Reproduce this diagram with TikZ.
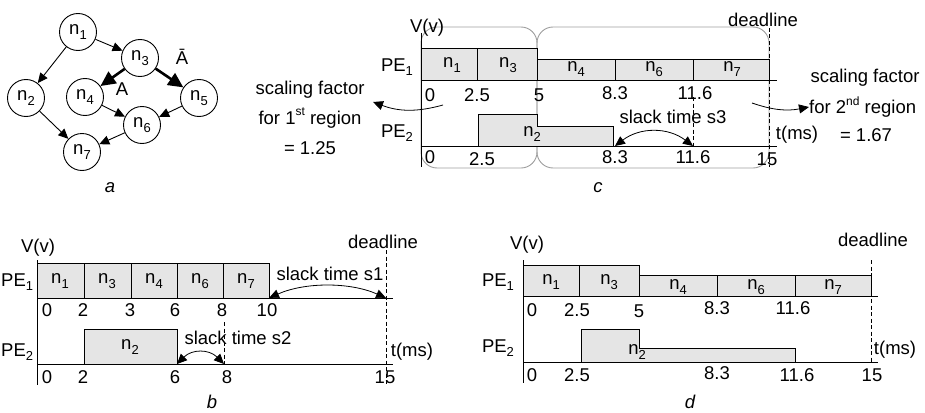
\documentclass[tikz,border=0pt]{standalone}
\usepackage{fontspec}
\setmainfont{Liberation Sans}
\usetikzlibrary{arrows.meta}
\newcommand{\mysub}[1]{\raisebox{-0.45ex}{\fontsize{13}{13}\selectfont #1}}
\newcommand{\mysup}[1]{\raisebox{0.85ex}{\fontsize{12}{12}\selectfont #1}}
\definecolor{taskgray}{gray}{0.90}
\definecolor{regiongray}{gray}{0.62}
\begin{document}
\begin{tikzpicture}[x=1pt,y=-1pt,
  font=\fontsize{18.5}{22}\selectfont,
  gn/.style={circle,draw,line width=0.9pt,minimum size=37pt,inner sep=0pt},
  garr/.style={-{Triangle[length=10pt,width=9pt]},line width=0.9pt},
  tharr/.style={-{Triangle[length=15pt,width=14pt]},line width=2.6pt},
  task/.style={draw,fill=taskgray,line width=0.8pt},
  axisline/.style={line width=0.9pt},
  dl/.style={line width=0.8pt,dash pattern=on 4pt off 2.5pt},
  slack/.style={{Triangle[length=10pt,width=9pt]}-{Triangle[length=10pt,width=9pt]},line width=0.8pt},
  sarr/.style={-{Triangle[length=10pt,width=9pt]},line width=0.8pt},
  lbl/.style={inner sep=0pt},
  figcap/.style={inner sep=0pt,font=\fontsize{18.5}{22}\selectfont\itshape},
  region/.style={draw=regiongray,line width=0.9pt,rounded corners=16pt}
]
\useasboundingbox (0,0) rectangle (925,412);

% ---------------- (a) graph ----------------
\node[gn] (n1) at (78,32) {n\mysub{1}};
\node[gn] (n3) at (140,58) {n\mysub{3}};
\node[gn] (n2) at (26,98) {n\mysub{2}};
\node[gn] (n4) at (85,97) {n\mysub{4}};
\node[gn] (n5) at (199,98) {n\mysub{5}};
\node[gn] (n6) at (142,125) {n\mysub{6}};
\node[gn] (n7) at (82,152) {n\mysub{7}};
\draw[garr] (n1) -- (n3);
\draw[garr] (n1) -- (n2);
\draw[tharr] (n3) -- (n4);
\draw[tharr] (n3) -- (n5);
\draw[garr] (n4) -- (n6);
\draw[garr] (n5) -- (n6);
\draw[garr] (n2) -- (n7);
\draw[garr] (n6) -- (n7);
\node[lbl] (lA) at (122,89) {A};
\node[lbl] (lAbar) at (182,57) {Ā};
\node[figcap] (capa) at (110,188) {a};

% ---------------- (c) ----------------
\draw[region] (421,27) rectangle (537,168);
\draw[region] (537,27) rectangle (769,168);
\draw[task] (421,48) rectangle (477,80);
\draw[task] (477,48) rectangle (537,80);
\draw[task] (537,59) rectangle (615,80);
\draw[task] (615,59) rectangle (693,80);
\draw[task] (693,59) rectangle (769,80);
\draw[task] (478,146) -- (478,114) -- (537,114) -- (537,126) -- (613,126) -- (613,146) -- cycle;
\draw[axisline] (421,33) -- (421,167);
\draw[axisline] (421,80) -- (777,80);
\draw[axisline] (421,146) -- (777,146);
\draw[dl] (769,28) -- (769,167);
\draw[dl] (693,97) -- (693,146);
\node[lbl] (c-n1) at (452,65) {n\mysub{1}};
\node[lbl] (c-n3) at (508,65) {n\mysub{3}};
\node[lbl] (c-n4) at (576,69) {n\mysub{4}};
\node[lbl] (c-n6) at (654,69) {n\mysub{6}};
\node[lbl] (c-n7) at (732,69) {n\mysub{7}};
\node[lbl] (c-n2) at (532,134) {n\mysub{2}};
\node[lbl] (c-V) at (427,28) {V(v)};
\node[lbl] (c-pe1) at (397,67) {PE\mysub{1}};
\node[lbl] (c-pe2) at (397,133) {PE\mysub{2}};
\node[lbl] (c-dl) at (763,20) {deadline};
\node[lbl] (c-t) at (797,135) {t(ms)};
\node[lbl] (c-r1a) at (430,95) {0};
\node[lbl] (c-r1b) at (477,95) {2.5};
\node[lbl] (c-r1c) at (539,95) {5};
\node[lbl] (c-r1d) at (615,93) {8.3};
\node[lbl] (c-r1e) at (695,93) {11.6};
\node[lbl] (c-r2a) at (430,157) {0};
\node[lbl] (c-r2b) at (482,159) {2.5};
\node[lbl] (c-r2c) at (615,157) {8.3};
\node[lbl] (c-r2d) at (693,157) {11.6};
\node[lbl] (c-r2e) at (767,159) {15};
\node[lbl] (c-s3) at (673,117) {slack time s3};
\coordinate (c-s3a) at (615,146);
\coordinate (c-s3b) at (693,146);
\draw[slack] (c-s3a) .. controls (640,127) and (668,127) .. (c-s3b);
\node[lbl] (sfl1) at (310,90) {scaling factor};
\node[lbl] (sfl2) at (310,118) {for 1\mysup{st} region};
\node[lbl] (sfl3) at (310,148) {= 1.25};
\coordinate (sfl-from) at (443,105);
\coordinate (sfl-to) at (373,102);
\draw[sarr] (sfl-from) to[bend left=18] (sfl-to);
\node[lbl] (sfr1) at (865,78) {scaling factor};
\node[lbl, anchor=west] (sfr2) at (809,107) {for 2\mysup{nd} region};
\node[lbl] (sfr3) at (866,135) {= 1.67};
\coordinate (sfr-from) at (752,103);
\draw[sarr] (sfr-from) to[bend right=15] (sfr2.west);
\node[figcap] (capc) at (598,188) {c};

% ---------------- (b) ----------------
\draw[task] (37,263) rectangle (84,298);
\draw[task] (84,263) rectangle (131,298);
\draw[task] (131,263) rectangle (177,298);
\draw[task] (177,263) rectangle (223,298);
\draw[task] (223,263) rectangle (269,298);
\draw[task] (84,329) rectangle (177,364);
\draw[axisline] (37,260) -- (37,385);
\draw[axisline] (37,298) -- (393,298);
\draw[axisline] (37,364) -- (393,364);
\draw[dl] (386,250) -- (386,385);
\draw[dl] (224,322) -- (224,364);
\node[lbl] (b-n1) at (60,281) {n\mysub{1}};
\node[lbl] (b-n3) at (107,281) {n\mysub{3}};
\node[lbl] (b-n4) at (154,281) {n\mysub{4}};
\node[lbl] (b-n6) at (200,281) {n\mysub{6}};
\node[lbl] (b-n7) at (246,281) {n\mysub{7}};
\node[lbl] (b-n2) at (130,347) {n\mysub{2}};
\node[lbl] (b-V) at (38,248) {V(v)};
\node[lbl, anchor=west] (b-pe1) at (1,282) {PE\mysub{1}};
\node[lbl, anchor=west] (b-pe2) at (1,352) {PE\mysub{2}};
\node[lbl] (b-dl) at (383,242) {deadline};
\node[lbl] (b-t) at (412,352) {t(ms)};
\node[lbl] (b-r1a) at (47,310) {0};
\node[lbl] (b-r1b) at (83,310) {2};
\node[lbl] (b-r1c) at (130,310) {3};
\node[lbl] (b-r1d) at (175,310) {6};
\node[lbl] (b-r1e) at (222,310) {8};
\node[lbl] (b-r1f) at (267,310) {10};
\node[lbl] (b-r2a) at (47,377) {0};
\node[lbl] (b-r2b) at (83,377) {2};
\node[lbl] (b-r2c) at (175,377) {6};
\node[lbl] (b-r2d) at (227,377) {8};
\node[lbl] (b-r2e) at (385,377) {15};
\node[lbl] (b-s1) at (330,274) {slack time s1};
\node[lbl] (b-s2) at (238,338) {slack time s2};
\coordinate (b-s1a) at (269,298);
\coordinate (b-s1b) at (386,298);
\draw[slack] (b-s1a) .. controls (305,282) and (350,282) .. (b-s1b);
\coordinate (b-s2a) at (177,364);
\coordinate (b-s2b) at (224,364);
\draw[slack] (b-s2a) .. controls (192,349) and (209,349) .. (b-s2b);
\node[figcap] (capb) at (212,402) {b};

% ---------------- (d) ----------------
\draw[task] (523,265) rectangle (579,296);
\draw[task] (579,265) rectangle (639,296);
\draw[task] (639,275) rectangle (717,296);
\draw[task] (717,275) rectangle (795,296);
\draw[task] (795,275) rectangle (871,296);
\draw[task] (581,362) -- (581,329) -- (639,329) -- (639,348) -- (795,348) -- (795,362) -- cycle;
\draw[axisline] (523,260) -- (523,383);
\draw[axisline] (523,296) -- (878,296);
\draw[axisline] (523,362) -- (878,362);
\draw[dl] (871,260) -- (871,363);
\node[lbl] (d-n1) at (551,282) {n\mysub{1}};
\node[lbl] (d-n3) at (609,282) {n\mysub{3}};
\node[lbl] (d-n4) at (678,287) {n\mysub{4}};
\node[lbl] (d-n6) at (756,287) {n\mysub{6}};
\node[lbl] (d-n7) at (833,287) {n\mysub{7}};
\node[lbl] (d-n2) at (637,352) {n\mysub{2}};
\node[lbl] (d-V) at (527,245) {V(v)};
\node[lbl] (d-pe1) at (498,282) {PE\mysub{1}};
\node[lbl] (d-pe2) at (498,348) {PE\mysub{2}};
\node[lbl] (d-dl) at (873,240) {deadline};
\node[lbl] (d-t) at (895,350) {t(ms)};
\node[lbl] (d-r1a) at (532,310) {0};
\node[lbl] (d-r1b) at (577,310) {2.5};
\node[lbl] (d-r1c) at (639,311) {5};
\node[lbl] (d-r1d) at (717,308) {8.3};
\node[lbl] (d-r1e) at (793,308) {11.6};
\node[lbl] (d-r2a) at (532,375) {0};
\node[lbl] (d-r2b) at (577,375) {2.5};
\node[lbl] (d-r2c) at (717,373) {8.3};
\node[lbl] (d-r2d) at (797,375) {11.6};
\node[lbl] (d-r2e) at (872,375) {15};
\node[figcap] (capd) at (690,402) {d};
\end{tikzpicture}
\end{document}
